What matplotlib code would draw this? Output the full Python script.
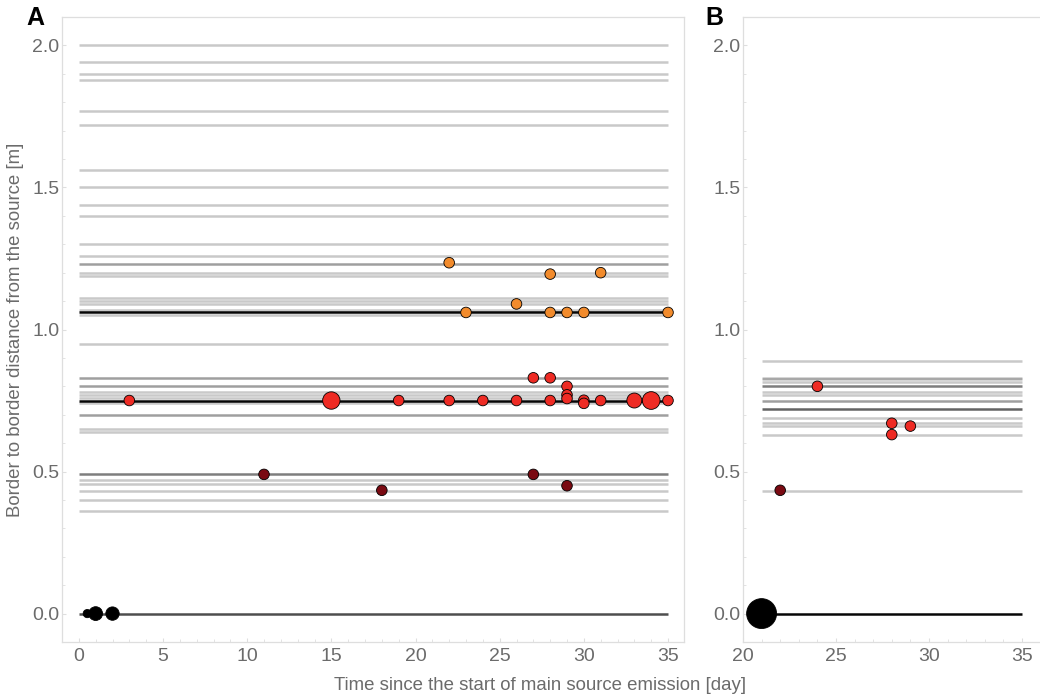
import matplotlib
matplotlib.use("Agg")
import matplotlib.pyplot as plt
import numpy as np

# ---------------- data ----------------
# Panel A: horizontal trajectories (distance, number of overlapping plants)
a_line_dist = [2.00, 1.94, 1.90, 1.88, 1.77, 1.72, 1.56, 1.50, 1.44, 1.40,
               1.30, 1.26, 1.23, 1.20, 1.19, 1.11, 1.10, 1.09, 1.07, 1.06, 1.05,
               0.95, 0.83, 0.80, 0.78, 0.77, 0.76, 0.75, 0.74, 0.70,
               0.65, 0.64, 0.49, 0.47, 0.455, 0.43, 0.40, 0.36, 0.00]
a_line_count = [1, 1, 1, 1, 1, 1, 1, 1, 1, 1,
                1, 1, 2, 1, 1, 1, 1, 1, 1, 16, 1,
                1, 2, 2, 1, 1, 1, 16, 1, 2,
                1, 1, 3, 1, 1, 1, 1, 1, 5]
a_line_start, a_line_end = 0, 35

# Panel A: infection events (day, distance, group, weight)
a_pt_day = [22, 23, 26, 28, 28, 29, 30, 31, 35,
            3, 15, 19, 22, 24, 26, 27, 28, 28, 29, 29, 29, 30, 30, 31, 33, 34, 35,
            11, 18, 27, 29,
            0.5, 1, 2]
a_pt_dist = [1.235, 1.06, 1.09, 1.195, 1.06, 1.06, 1.06, 1.20, 1.06,
             0.75, 0.75, 0.75, 0.75, 0.75, 0.75, 0.83, 0.83, 0.75, 0.80, 0.77, 0.757, 0.751, 0.74, 0.75, 0.75, 0.75, 0.75,
             0.49, 0.434, 0.49, 0.45,
             0.0, 0.0, 0.0]
a_pt_group = ["orange"] * 9 + ["red"] * 18 + ["darkred"] * 4 + ["source"] * 3
a_pt_weight = [1] * 9 + [1, 2.7, 1, 1, 1, 1, 1, 1, 1, 1, 1, 1, 1, 1, 1, 2.0, 2.8, 1] + [1] * 4 + [0.6, 1.7, 1.6]

# Panel B
b_line_dist = [0.89, 0.83, 0.825, 0.815, 0.80, 0.78, 0.77, 0.75, 0.72,
               0.69, 0.67, 0.66, 0.63, 0.43, 0.00]
b_line_count = [1, 1, 1, 1, 3, 1, 1, 2, 4, 1, 1, 1, 1, 1, 16]
b_line_start, b_line_end = 21, 35

b_pt_day = [24, 28, 28, 29, 22, 21]
b_pt_dist = [0.80, 0.67, 0.63, 0.66, 0.434, 0.0]
b_pt_group = ["red", "red", "red", "red", "darkred", "source"]
b_pt_weight = [1, 1, 1, 1, 1, 8.0]

xticks_a = [0, 5, 10, 15, 20, 25, 30, 35]
xticks_b = [20, 25, 30, 35]
yticks = [0.0, 0.5, 1.0, 1.5, 2.0]

# ---------------- style ----------------
group_colors = {"orange": "#F28B2C", "red": "#EE2B24", "darkred": "#7A0A12", "source": "#000000"}
base_s = 58
line_alpha = 0.21
frame_col = "#DEDEDE"
text_col = "#6B6B6B"

plt.rcParams["font.family"] = ["Liberation Sans", "DejaVu Sans"]

fig = plt.figure(figsize=(10.4, 6.98), dpi=100)
axA = fig.add_axes([62 / 1040, 1 - 642 / 698, 622 / 1040, 625 / 698])
axB = fig.add_axes([743 / 1040, 1 - 642 / 698, 297 / 1040, 625 / 698])


def draw(ax, ldist, lcount, lstart, lend, pday, pdist, pgroup, pweight, xlim, xticks):
    for d, n in zip(ldist, lcount):
        alpha = 1 - (1 - line_alpha) ** n
        ax.plot([lstart, lend], [d, d], color="black", alpha=alpha, lw=1.8,
                solid_capstyle="butt", zorder=1)
    cols = [group_colors[g] for g in pgroup]
    sizes = [base_s * w for w in pweight]
    ax.scatter(pday, pdist, s=sizes, c=cols, edgecolors="black", linewidths=0.6, zorder=3)
    ax.set_xlim(*xlim)
    ax.set_ylim(-0.1, 2.1)
    ax.set_xticks(xticks)
    ax.set_yticks(yticks)
    ax.set_yticklabels([f"{v:.1f}" for v in yticks])
    ax.set_xticks(np.arange(xlim[0] // 1 + 1, xlim[1], 1), minor=True)
    ax.set_yticks(np.arange(-0.1, 2.11, 0.1), minor=True)
    for s in ax.spines.values():
        s.set_color(frame_col)
        s.set_linewidth(0.9)
    ax.tick_params(axis="both", which="major", direction="in", length=3, color=frame_col,
                   labelcolor=text_col, labelsize=14, pad=4)
    ax.tick_params(axis="both", which="minor", direction="in", length=2.5, color=frame_col)
    ax.tick_params(axis="y", pad=2)


draw(axA, a_line_dist, a_line_count, a_line_start, a_line_end,
     a_pt_day, a_pt_dist, a_pt_group, a_pt_weight, (-1.0, 35.95), xticks_a)
draw(axB, b_line_dist, b_line_count, b_line_start, b_line_end,
     b_pt_day, b_pt_dist, b_pt_group, b_pt_weight, (20.0, 35.97), xticks_b)
axB.spines["right"].set_visible(False)

fig.text(35 / 1040, 1 - 18 / 698, "A", fontsize=18, fontweight="bold", ha="center", va="center")
fig.text(714 / 1040, 1 - 18 / 698, "B", fontsize=18, fontweight="bold", ha="center", va="center")
fig.text(540 / 1040, 1 - 686 / 698, "Time since the start of main source emission [day]",
         fontsize=13.4, color=text_col, ha="center", va="center")
fig.text(16 / 1040, 1 - 330 / 698, "Border to border distance from the source [m]",
         fontsize=13.4, color=text_col, ha="center", va="center", rotation=90)

fig.savefig("out.png", dpi=100)
